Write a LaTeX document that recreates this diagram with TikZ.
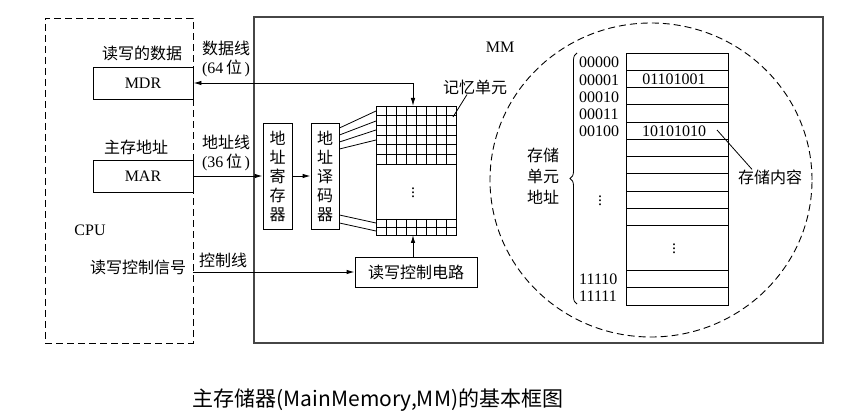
\documentclass[tikz,border=0pt]{standalone}
\usepackage{fontspec}
\setmainfont{Liberation Serif}
\newfontfamily\cjk{Noto Sans CJK SC}
\usetikzlibrary{arrows.meta, decorations.pathreplacing}
\definecolor{frame}{RGB}{70,70,70}
\tikzstyle{blk}=[rectangle, draw, line width=0.9pt, inner sep=0pt,
  font=\cjk\fontsize{16}{19}\selectfont, align=center]
\tikzstyle{lbl}=[inner sep=0pt, font=\cjk\fontsize{16}{19}\selectfont, align=center]
\tikzstyle{num}=[inner sep=0pt, font=\fontsize{16}{18}\selectfont]
\tikzstyle{arr}=[-{Latex[length=8pt,width=4.5pt]}, line width=0.9pt]
\tikzstyle{darr}=[{Latex[length=8pt,width=4.5pt]}-{Latex[length=8pt,width=4.5pt]}, line width=0.9pt]
\tikzstyle{thin}=[line width=0.8pt]
\tikzstyle{dsh}=[line width=0.9pt, dash pattern=on 7pt off 4pt]

\begin{document}
\begin{tikzpicture}[x=1pt, y=-1pt]
    \useasboundingbox (0,0) rectangle (844,414);
    % frames
    \node[blk, dsh, minimum width=148pt, minimum height=325pt] (cpu) at (119,180.5) {};
    \node[blk, draw=frame, line width=1.1pt, minimum width=569pt, minimum height=326pt] (mm) at (538.5,180) {};
    \node[num] (cpulbl) at (90,230) {CPU};
    \node[num] (mmlbl) at (500,47) {MM};
    % CPU side
    \node[blk, font=\fontsize{16}{18}\selectfont, minimum width=100pt, minimum height=32pt] (mdr) at (143,83) {MDR};
    \node[blk, font=\fontsize{16}{18}\selectfont, minimum width=100pt, minimum height=32pt] (mar) at (143,176) {MAR};
    \node[lbl] (rwdata) at (142,53) {读写的数据};
    \node[lbl] (maddr) at (136,147) {主存地址};
    \node[lbl] (rwsig) at (138,267) {读写控制信号};
    \node[lbl] (dbus) at (226,48) {数据线};
    \node[lbl] (dbusw) at (226,68) {\fontsize{16}{18}\selectfont\rmfamily(64\,{\cjk 位}\,)};
    \node[lbl] (abus) at (226,142) {地址线};
    \node[lbl] (abusw) at (226,162) {\fontsize{16}{18}\selectfont\rmfamily(36\,{\cjk 位}\,)};
    \node[lbl] (cbus) at (223,260) {控制线};
    % MM side
    \node[blk, minimum width=29pt, minimum height=106pt] (reg) at (277.5,176) {地\\址\\寄\\存\\器};
    \node[blk, minimum width=28pt, minimum height=106pt] (dec) at (325,176) {地\\址\\译\\码\\器};
    \node[blk, minimum width=122pt, minimum height=30pt] (ctrl) at (416,272) {读写控制电路};
    % memory cell array
    \draw[thin] (376,106) rectangle (456,235);
    \foreach \c in {1,...,7} {
        \draw[thin] (376+\c*10,106) -- (376+\c*10,164);
        \draw[thin] (376+\c*10,219) -- (376+\c*10,235);
    }
    \foreach \r in {1,...,6}
        \draw[thin] (376,106+\r*9.667) -- (456,106+\r*9.667);
    \draw[thin] (376,219) -- (456,219);
    \draw[thin] (376,227) -- (456,227);
    \node[num] (gdots) at (413,190) {$\vdots$};
    \coordinate (gridT) at (413,106);
    \coordinate (gridB) at (413,235);
    \coordinate (cell) at (453,117);
    \node[lbl] (celllbl) at (475,87) {记忆单元};
    \draw[thin] (cell) -- ([xshift=-8pt]celllbl.south);
    % decoder word lines
    \foreach \a/\b in {128/111, 135/121, 142/130, 149/140, 215/223, 223/231}
        \draw[thin] (dec.east |- 0,\a) -- (376,\b);
    % buses
    \draw[darr] (gridT) -- (gridT |- mdr.east) -- (mdr.east);
    \draw[arr] (mar.east) -- (reg.west);
    \draw[arr] (reg) -- (dec);
    \draw[arr] (cpu.east |- ctrl.west) -- (ctrl.west);
    \draw[arr] (ctrl.north -| gridB) -- (gridB);
    % storage units
    \draw[dsh] (651,180) ellipse [x radius=161pt, y radius=157pt];
    \draw[thin] (626,53) rectangle (728,305);
    \foreach \i in {1,...,10}
        \draw[thin] (626,53+\i*17.27) -- (728,53+\i*17.27);
    \draw[thin] (626,270) -- (728,270);
    \draw[thin] (626,287.5) -- (728,287.5);
    \foreach \t [count=\i from 0] in {00000,00001,00010,00011,00100}
        \node[num, anchor=west] (a\i) at (579,62.6+\i*17.27) {\t};
    \node[num, anchor=west] (a30) at (579,279) {11110};
    \node[num, anchor=west] (a31) at (579,296.5) {11111};
    \node[num] (adots) at (600,198) {$\vdots$};
    \node[num] (mdots) at (674,246) {$\vdots$};
    \node[num] (v1) at (674,79.5) {01101001};
    \node[num] (v4) at (674,131.5) {10101010};
    \draw[thin, decorate, decoration={brace, amplitude=7pt}] (577,304) -- (577,53);
    \node[lbl, font=\cjk\fontsize{16}{21}\selectfont] (addrlbl) at (543,176) {存储\\单元\\地址};
    \node[lbl] (content) at (770,177) {存储内容};
    \coordinate (c4) at (717,130);
    \draw[thin] (c4) -- ([xshift=-18pt]content.north);
    % caption
    \node[inner sep=0pt, font=\cjk\fontsize{21}{23}\selectfont] (cap) at (378,400) {主存储器(MainMemory,MM)的基本框图};
\end{tikzpicture}
\end{document}
